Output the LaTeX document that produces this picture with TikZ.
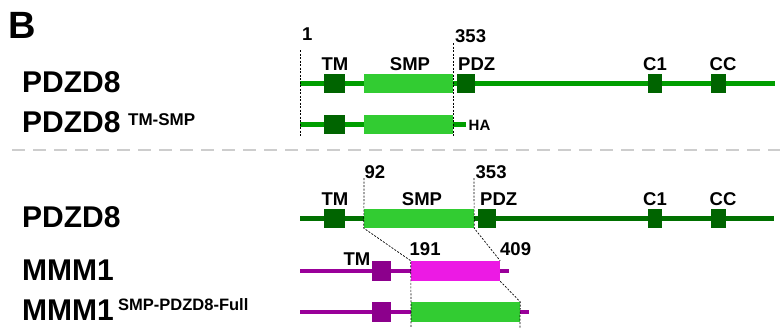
\documentclass[tikz,border=0pt]{standalone}
\usepackage{fontspec}
\setmainfont{Liberation Sans}
\definecolor{lgline}{RGB}{0,158,0}
\definecolor{dgline}{RGB}{0,112,0}
\definecolor{dgbox}{RGB}{0,100,0}
\definecolor{smpgreen}{RGB}{50,204,50}
\definecolor{purpline}{RGB}{153,0,153}
\definecolor{purpbox}{RGB}{140,0,140}
\definecolor{magbox}{RGB}{236,26,228}
\definecolor{sepgray}{RGB}{205,205,205}
\begin{document}
\begin{tikzpicture}[x=1pt,y=-1pt,
  dombox/.style={draw=none,inner sep=0pt,minimum height=19pt},
  bbline/.style={line width=4.5pt},
  pguide/.style={black,line width=0.7pt,dash pattern=on 2pt off 1.5pt},
  pbig/.style={font=\fontsize{30}{30}\selectfont\bfseries,anchor=base west,inner sep=0pt},
  psup/.style={font=\fontsize{17}{17}\selectfont\bfseries,anchor=base west,inner sep=0pt},
  plab/.style={font=\fontsize{18.5}{18.5}\selectfont\bfseries,anchor=base,inner sep=0pt},
  plabw/.style={plab,anchor=base west}]
\useasboundingbox (0,0) rectangle (780,330);
% panel letter
\node[font=\fontsize{38}{38}\selectfont\bfseries,anchor=base west,inner sep=0pt] (B) at (8,38) {B};
% ---------- top section ----------
\node[pbig] (nA) at (22,92) {PDZD8};
\node[pbig] (nB) at (22,132) {PDZD8};
\node[psup] (nBs) at (128,125) {TM-SMP};
\coordinate (a0) at (300,83.5);
\coordinate (a1) at (775,83.5);
\draw[bbline,lgline] (a0) -- (a1);
\node[dombox,fill=dgbox,minimum width=21pt] (aTM) at (334.5,83.5) {};
\node[dombox,fill=smpgreen,minimum width=89pt] (aSMP) at (408.5,83.5) {};
\node[dombox,fill=dgbox,minimum width=18pt] (aPDZ) at (466,83.5) {};
\node[dombox,fill=dgbox,minimum width=14pt] (aC1) at (655,83.5) {};
\node[dombox,fill=dgbox,minimum width=15pt] (aCC) at (718.5,83.5) {};
\coordinate (b0) at (300,124.5);
\coordinate (b1) at (466,124.5);
\draw[bbline,lgline] (b0) -- (b1);
\node[dombox,fill=dgbox,minimum width=21pt] (bTM) at (334.5,124.5) {};
\node[dombox,fill=smpgreen,minimum width=89pt] (bSMP) at (408.5,124.5) {};
\node[font=\fontsize{15}{15}\selectfont\bfseries,anchor=base west,inner sep=0pt] (HA) at (468.5,130.5) {HA};
\node[plab] (lTMa) at (335,70) {TM};
\node[plab] (lSMPa) at (410,70) {SMP};
\node[plabw] (lPDZa) at (458,70) {PDZ};
\node[plab] (lC1a) at (655,70) {C1};
\node[plab] (lCCa) at (723,70) {CC};
\node[plabw] (l1) at (302,40) {1};
\node[plabw] (l353a) at (455,42) {353};
\coordinate (g1t) at (300,50);
\coordinate (g1b) at (300,137);
\coordinate (g2t) at (453,43);
\coordinate (g2b) at (453,137);
\draw[pguide] (g1t) -- (g1b);
\draw[pguide] (g2t) -- (g2b);
% separator
\coordinate (s0) at (12,150);
\coordinate (s1) at (780,150);
\draw[sepgray,line width=1.8pt,dash pattern=on 13pt off 8pt] (s0) -- (s1);
% ---------- bottom section ----------
\node[pbig] (nC) at (22,227) {PDZD8};
\node[pbig] (nD) at (22,280) {MMM1};
\node[pbig] (nE) at (22,320) {MMM1};
\node[psup,font=\fontsize{16.5}{16.5}\selectfont\bfseries] (nEs) at (118,310) {SMP-PDZD8-Full};
\coordinate (c0) at (300,218.5);
\coordinate (c1) at (774,218.5);
\draw[bbline,dgline] (c0) -- (c1);
\node[dombox,fill=dgbox,minimum width=21pt] (cTM) at (334.5,218.5) {};
\node[dombox,fill=smpgreen,minimum width=110pt] (cSMP) at (419,218.5) {};
\node[dombox,fill=dgbox,minimum width=18pt] (cPDZ) at (487,218.5) {};
\node[dombox,fill=dgbox,minimum width=14pt] (cC1) at (655,218.5) {};
\node[dombox,fill=dgbox,minimum width=15pt] (cCC) at (718.5,218.5) {};
\node[plab] (lTMc) at (335,205) {TM};
\node[plab] (lSMPc) at (422,205) {SMP};
\node[plabw] (lPDZc) at (480,205) {PDZ};
\node[plab] (lC1c) at (655,205) {C1};
\node[plab] (lCCc) at (723,205) {CC};
\node[plabw] (l92) at (364.5,178) {92};
\node[plabw] (l353c) at (475.5,178) {353};
% MMM1
\coordinate (d0) at (300,271);
\coordinate (d1) at (509,271);
\draw[bbline,purpline] (d0) -- (d1);
\node[dombox,fill=purpbox,minimum width=19pt,minimum height=20pt] (dTM) at (381.5,271) {};
\node[dombox,fill=magbox,minimum width=89pt,minimum height=20pt] (dSMP) at (455.5,271) {};
\node[plab] (lTMd) at (357,265) {TM};
\node[plabw] (l191) at (409.5,255) {191};
\node[plabw] (l409) at (500,255) {409};
% MMM1 SMP-PDZD8-Full
\coordinate (e0) at (300,312);
\coordinate (e1) at (529,312);
\draw[bbline,purpline] (e0) -- (e1);
\node[dombox,fill=purpbox,minimum width=19pt,minimum height=20pt] (eTM) at (381.5,312) {};
\node[dombox,fill=smpgreen,minimum width=109pt,minimum height=20pt] (eSMP) at (465.5,312) {};
% guides bottom
\coordinate (h1t) at (364,178);
\coordinate (h2t) at (474,178);
\coordinate (h4b) at (520,328);
\coordinate (h3b) at (411,328);
\draw[pguide] (h1t) -- (cSMP.south west) -- (dSMP.north west) -- (h3b);
\draw[pguide] (h2t) -- (cSMP.south east) -- (dSMP.north east);
\draw[pguide] (dSMP.south east) -- (eSMP.north east) -- (h4b);
\end{tikzpicture}
\end{document}
